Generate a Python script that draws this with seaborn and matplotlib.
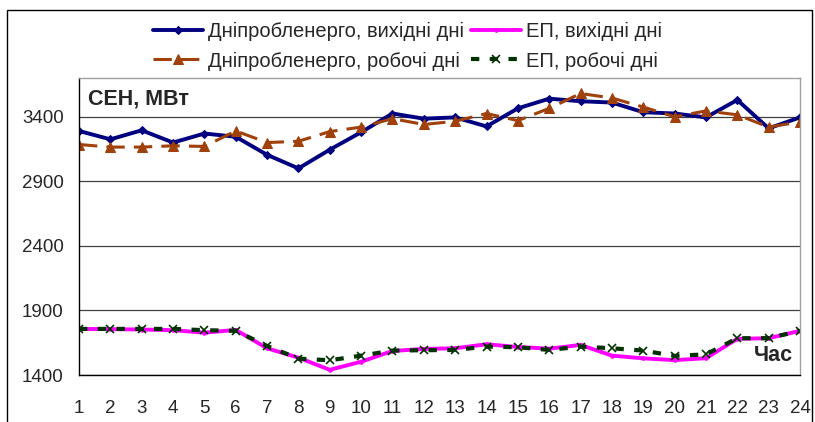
import matplotlib
matplotlib.use("Agg")
import matplotlib.pyplot as plt
from matplotlib.patches import Rectangle
import seaborn as sns

hours = list(range(1, 25))
dnipro_weekend = [3290, 3225, 3295, 3200, 3270, 3245, 3105, 3000, 3145, 3280, 3425, 3385,
                  3395, 3325, 3465, 3540, 3520, 3510, 3435, 3425, 3395, 3530, 3310, 3395]
dnipro_workday = [3185, 3165, 3165, 3175, 3170, 3290, 3200, 3210, 3285, 3320, 3385, 3340,
                  3365, 3425, 3370, 3465, 3580, 3545, 3475, 3400, 3445, 3415, 3320, 3360]
ep_weekend = [1757, 1755, 1752, 1747, 1728, 1749, 1607, 1534, 1440, 1503, 1586, 1602,
              1607, 1638, 1617, 1604, 1633, 1550, 1529, 1515, 1530, 1680, 1685, 1742]
ep_workday = [1757, 1757, 1757, 1757, 1747, 1742, 1625, 1527, 1514, 1550, 1589, 1592,
              1594, 1620, 1615, 1594, 1620, 1607, 1589, 1548, 1560, 1685, 1685, 1742]

labels = ["Дніпробленерго, вихідні дні", "Дніпробленерго, робочі дні",
          "ЕП, вихідні дні", "ЕП, робочі дні"]
y_ticks = [1400, 1900, 2400, 2900, 3400]

sns.set_style("white")
plt.rcParams["font.family"] = ["Liberation Sans", "DejaVu Sans"]
plt.rcParams["font.size"] = 13

fig = plt.figure(figsize=(8.15, 4.22), dpi=100)
ax = fig.add_axes([79 / 815, 1 - 375 / 422, 721 / 815, 297 / 422])

sns.lineplot(x=hours, y=dnipro_weekend, ax=ax, color="#000080", lw=2.8,
             marker="D", ms=4, mec="#000080", label=labels[0])
sns.lineplot(x=hours, y=dnipro_workday, ax=ax, color="#a0400a", lw=2.2,
             linestyle=(0, (6, 3)), marker="^", ms=7, mec="#a0400a", label=labels[1])
sns.lineplot(x=hours, y=ep_weekend, ax=ax, color="#ff00ff", lw=2.8,
             marker="o", ms=2.5, mec="#ff00ff", label=labels[2])
sns.lineplot(x=hours, y=ep_workday, ax=ax, color="#003300", lw=3,
             linestyle=(0, (2, 2.5)), marker="x", ms=6, mew=1.2, mec="#003300", label=labels[3])

ax.set_xlim(1, 24)
ax.set_ylim(1400, 3700)
ax.set_xticks(hours)
ax.set_yticks(y_ticks)
ax.yaxis.grid(True, color="#404040", lw=0.9)
ax.set_axisbelow(True)
ax.tick_params(axis="both", direction="out", length=5, width=1, color="black",
               labelsize=13.5, pad=6)
ax.tick_params(axis="x", pad=13)
for side in ["left", "bottom"]:
    ax.spines[side].set_color("black")
    ax.spines[side].set_linewidth(1)
for side in ["top", "right"]:
    ax.spines[side].set_color("#a0a0a0")
    ax.spines[side].set_linewidth(1)

ax.text(0.012, 0.965, "СЕН, МВт", transform=ax.transAxes, fontsize=15.5,
        fontweight="bold", va="top", ha="left")
ax.text(0.99, 0.065, "Час", transform=ax.transAxes, fontsize=15.5,
        fontweight="bold", va="center", ha="right")

handles, labs = ax.get_legend_handles_labels()
ax.get_legend().remove()
fig.legend(handles, labs, loc="upper center", bbox_to_anchor=(0.5, 0.99), ncol=2,
           frameon=False, fontsize=14.5, handlelength=2.5, handletextpad=0.25,
           columnspacing=0.3, labelspacing=0.5)

fig.patches.append(Rectangle((7 / 815, -0.05), 805 / 815, 1 - 10 / 422 + 0.05,
                             transform=fig.transFigure, fill=False, ec="black",
                             lw=1, clip_on=False))

fig.savefig("out.png", dpi=100)
